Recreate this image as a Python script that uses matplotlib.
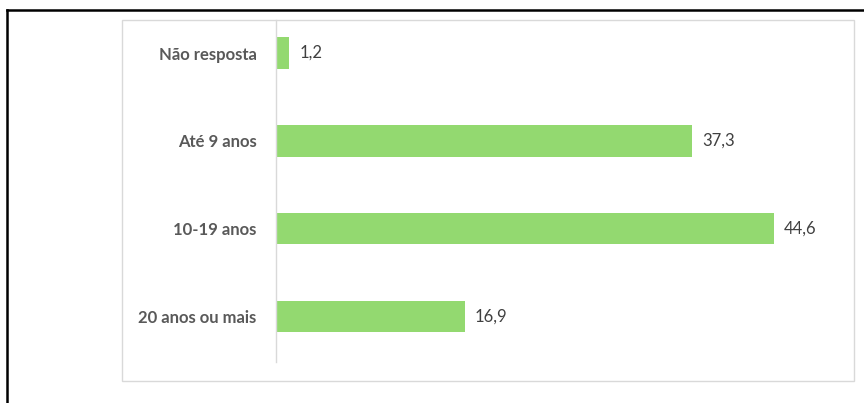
import matplotlib.pyplot as plt
from matplotlib.patches import Rectangle
from matplotlib.lines import Line2D

# age groups, top to bottom, and their percentages
categorias = ['Não resposta', 'Até 9 anos', '10-19 anos', '20 anos ou mais']
valores = [1.2, 37.3, 44.6, 16.9]
rotulos = ['1,2', '37,3', '44,6', '16,9']

W, H = 864, 403
fig = plt.figure(figsize=(W / 100, H / 100), dpi=100)

# outer black frame (top and left only) and light grey chart box
fig.add_artist(Line2D([7 / W, 1], [1 - 10 / H, 1 - 10 / H], color='black', lw=1.8))
fig.add_artist(Line2D([7 / W, 7 / W], [0, 1 - 10 / H], color='black', lw=1.8))
fig.add_artist(Rectangle((122 / W, 1 - 381 / H), (854 - 122) / W, (381 - 20) / H,
                         fill=False, edgecolor='#d9d9d9', lw=1.0))

ax = fig.add_axes([276 / W, 1 - 362 / H, 558 / W, (362 - 20) / H])
pos = list(range(len(categorias)))
ax.barh(pos, valores, height=0.36, color='#93d970')
ax.set_xlim(0, 50)
ax.set_ylim(3.52, -0.376)

ax.set_yticks(pos)
ax.set_yticklabels(categorias, fontsize=12, fontweight='bold', color='#595959',
                   family=['Lato', 'DejaVu Sans'])
ax.tick_params(axis='y', length=0, pad=14)
ax.set_xticks([])

for p, v, t in zip(pos, valores, rotulos):
    ax.text(v + 0.9, p, t, va='center', ha='left', fontsize=12, color='#404040',
            family=['Lato', 'DejaVu Sans'])

for s in ['top', 'right', 'bottom']:
    ax.spines[s].set_visible(False)
ax.spines['left'].set_color('#d9d9d9')
ax.spines['left'].set_linewidth(1.0)

fig.savefig('out.png', dpi=100)
